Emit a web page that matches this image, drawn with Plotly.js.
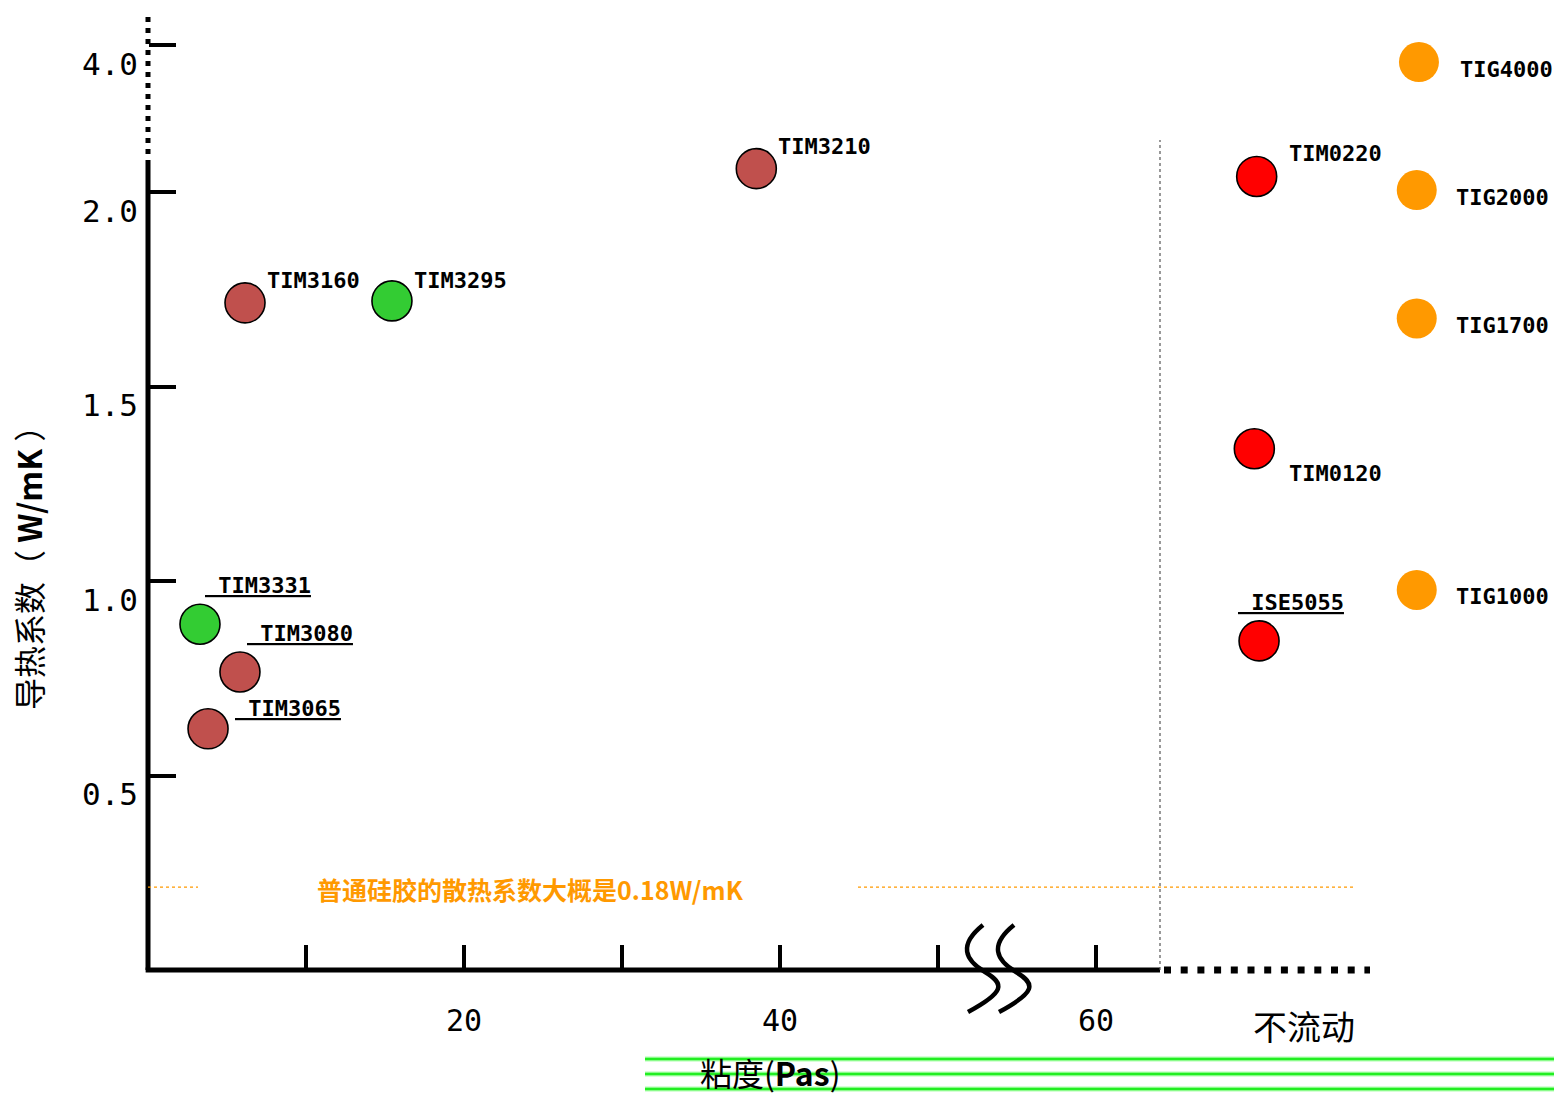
<!DOCTYPE html>
<html>
<head>
<meta charset="utf-8">
<script src="https://cdn.plot.ly/plotly-3.0.1.min.js"></script>
<style>html,body{margin:0;padding:0;background:#fff;}#chart{width:1554px;height:1097px;}</style>
</head>
<body>
<div id="chart"></div>
<script>
// ---- data ----
const brownNames = ['TIM3160', 'TIM3210', 'TIM3080', 'TIM3065'];
const brownVisc  = [6.14, 38.5, 5.82, 3.80];
const brownCond  = [1.715, 2.06, 0.766, 0.62];

const greenNames = ['TIM3295', 'TIM3331'];
const greenVisc  = [15.44, 3.29];
const greenCond  = [1.72, 0.889];

const redNames = ['TIM0220', 'TIM0120', 'ISE5055'];
const redVisc  = [70.17, 70.02, 70.32];
const redCond  = [2.04, 1.34, 0.846];

const orangeNames = ['TIG4000', 'TIG2000', 'TIG1700', 'TIG1000'];
const orangeVisc  = [80.44, 80.3, 80.3, 80.3];
const orangeCond  = [3.7, 2.005, 1.675, 0.977];

const yTickValues = [0.5, 1.0, 1.5, 2.0, 4.0];
const yTickLabels = ['0.5', '1.0', '1.5', '2.0', '4.0'];
const xTickValues = [10, 20, 30, 40, 50, 60];
const xTickLabels = ['', '20', '', '40', '', '60'];
const siliconeLevel = 0.213;
const siliconeNote = '普通硅胶的散热系数大概是0.18W/mK';
const underlined = ['TIM3331', 'TIM3080', 'TIM3065', 'ISE5055'];

// ---- layout helpers ----
const W = 1554, H = 1097;
const X0 = 148, XS = 15.8, Y0 = 970, YS = 389;
// broken y axis: compressed above 2.1
function disp(v) { return v <= 2.1 ? v : 2.1 + (v - 2.1) * 0.1463; }
const px = p => (p / W).toFixed(5);
const py = p => (1 - p / H).toFixed(5);
const P = (x, y) => px(x) + ' ' + py(y);

const labelOffset = {
  TIM3160: [20, -22], TIM3295: [20, -20], TIM3210: [20, -22],
  TIM3331: [3, -39], TIM3080: [5, -39], TIM3065: [25, -20],
  TIM0220: [30, -23], TIM0120: [33, 25], ISE5055: [-23, -38],
  TIG4000: [39, 7], TIG2000: [37, 7], TIG1700: [37, 7], TIG1000: [37, 7]
};

function mk(names, xs, ys, color, outline) {
  return {
    type: 'scatter', mode: 'markers', x: xs, y: ys.map(disp), text: names,
    hoverinfo: 'skip', cliponaxis: false,
    marker: { size: 40, color: color, line: { width: outline ? 1.6 : 0, color: '#000' } }
  };
}
const traces = [
  mk(brownNames, brownVisc, brownCond, '#C0504D', true),
  mk(greenNames, greenVisc, greenCond, '#33CC33', true),
  mk(redNames, redVisc, redCond, '#FF0000', true),
  mk(orangeNames, orangeVisc, orangeCond, '#FF9900', false)
];

const annotations = [];
[[brownNames, brownVisc, brownCond], [greenNames, greenVisc, greenCond],
 [redNames, redVisc, redCond], [orangeNames, orangeVisc, orangeCond]].forEach(([n, xs, ys]) => {
  n.forEach((name, i) => {
    const u = underlined.includes(name);
    const off = labelOffset[name];
    annotations.push({
      x: xs[i], y: disp(ys[i]), xref: 'x', yref: 'y',
      text: u ? '\u00A0' + name : name,
      showarrow: false, xanchor: 'left', yanchor: 'middle',
      xshift: off[0], yshift: -off[1],
      font: { family: 'DejaVu Sans Mono', size: 22, weight: 'bold', color: '#000',
              lineposition: u ? 'under' : 'none' }
    });
  });
});

annotations.push({
  x: 24.2, y: siliconeLevel, xref: 'x', yref: 'y', text: siliconeNote, showarrow: false,
  xanchor: 'center', yanchor: 'middle', yshift: -2,
  font: { family: 'Noto Sans CJK SC', size: 25, weight: 'bold', color: '#FF9900' }
});
annotations.push({
  x: 28 / W, y: 1 - 560 / H, xref: 'paper', yref: 'paper', text: '导热系数（ <b>W/mK</b> ）',
  textangle: -90, showarrow: false, xanchor: 'center', yanchor: 'middle',
  font: { family: 'Noto Sans CJK SC', size: 32, color: '#000' }
});
annotations.push({
  x: 770 / W, y: 1 - 1072 / H, xref: 'paper', yref: 'paper', text: '粘度(<b>Pas</b>)',
  showarrow: false, xanchor: 'center', yanchor: 'middle',
  font: { family: 'Noto Sans CJK SC', size: 32, color: '#000' }
});
annotations.push({
  x: 1304 / W, y: 1 - 1025 / H, xref: 'paper', yref: 'paper', text: '不流动',
  showarrow: false, xanchor: 'center', yanchor: 'middle',
  font: { family: 'Noto Sans CJK SC', size: 34, color: '#000' }
});

const shapes = [];
// axis lines
shapes.push({ type: 'line', xref: 'x', yref: 'y', x0: 0, x1: 0, y0: 0, y1: (Y0 - 165) / YS,
  line: { color: '#000', width: 5 } });
shapes.push({ type: 'line', xref: 'x', yref: 'y', x0: 0, x1: 0, y0: (Y0 - 165) / YS, y1: (Y0 - 12) / YS,
  line: { color: '#000', width: 5, dash: '5px,6px' } });
shapes.push({ type: 'line', xref: 'x', yref: 'y', x0: -0.15, x1: (1160 - X0) / XS, y0: 0, y1: 0,
  line: { color: '#000', width: 5 } });
shapes.push({ type: 'line', xref: 'x', yref: 'y', x0: (1164 - X0) / XS, x1: (1370 - X0) / XS, y0: 0, y1: 0,
  line: { color: '#000', width: 7, dash: '7px,9.7px' } });
// dotted separator
shapes.push({ type: 'line', xref: 'x', yref: 'y', x0: (1160 - X0) / XS, x1: (1160 - X0) / XS, y0: 0, y1: (Y0 - 140) / YS,
  line: { color: '#555', width: 1.2, dash: 'dot' } });
// silicone reference line
shapes.push({ type: 'line', xref: 'x', yref: 'y', x0: 0, x1: (198 - X0) / XS, y0: siliconeLevel, y1: siliconeLevel,
  line: { color: '#FF9900', width: 1.3, dash: 'dot' } });
shapes.push({ type: 'line', xref: 'x', yref: 'y', x0: (858 - X0) / XS, x1: (1355 - X0) / XS, y0: siliconeLevel, y1: siliconeLevel,
  line: { color: '#FF9900', width: 1.3, dash: 'dot' } });
// axis break symbol
[0, 31].forEach(dx => {
  const p = 'M ' + P(983 + dx, 925) + ' C ' + P(958 + dx, 945) + ', ' + P(965 + dx, 960) + ', ' + P(985 + dx, 972) +
            ' S ' + P(1005 + dx, 992) + ', ' + P(968 + dx, 1012);
  shapes.push({ type: 'path', xref: 'paper', yref: 'paper', path: p, line: { color: '#000', width: 4.5 } });
});
// green lines at the bottom
[1059, 1074, 1089].forEach(yy => {
  shapes.push({ type: 'line', xref: 'paper', yref: 'paper', x0: 645 / W, x1: 1, y0: 1 - yy / H, y1: 1 - yy / H,
    line: { color: 'rgba(120,255,120,0.6)', width: 5 } });
  shapes.push({ type: 'line', xref: 'paper', yref: 'paper', x0: 645 / W, x1: 1, y0: 1 - yy / H, y1: 1 - yy / H,
    line: { color: '#22EE22', width: 2.5 } });
});

const layout = {
  width: W, height: H,
  margin: { l: 0, r: 0, t: 0, b: 0, pad: 0 },
  paper_bgcolor: '#fff', plot_bgcolor: '#fff',
  showlegend: false, hovermode: false,
  xaxis: {
    range: [-X0 / XS, (W - X0) / XS], anchor: 'free', position: (H - Y0) / H,
    showgrid: false, zeroline: false, showline: false,
    ticks: 'inside', ticklen: 25, tickwidth: 4, tickcolor: '#000',
    tickvals: xTickValues, ticktext: xTickLabels, ticklabelstandoff: 30,
    tickfont: { family: 'DejaVu Sans Mono', size: 30, color: '#000' }
  },
  yaxis: {
    range: [-(H - Y0) / YS, Y0 / YS], anchor: 'free', position: X0 / W,
    showgrid: false, zeroline: false, showline: false,
    ticks: 'inside', ticklen: 27, tickwidth: 4, tickcolor: '#000',
    tickvals: yTickValues.map(disp), ticktext: yTickLabels,
    ticklabelshift: 19, ticklabelstandoff: 10,
    tickfont: { family: 'DejaVu Sans Mono', size: 31, color: '#000' }
  },
  shapes: shapes,
  annotations: annotations
};

Plotly.newPlot('chart', traces, layout, { displayModeBar: false, staticPlot: true });
</script>
</body>
</html>
